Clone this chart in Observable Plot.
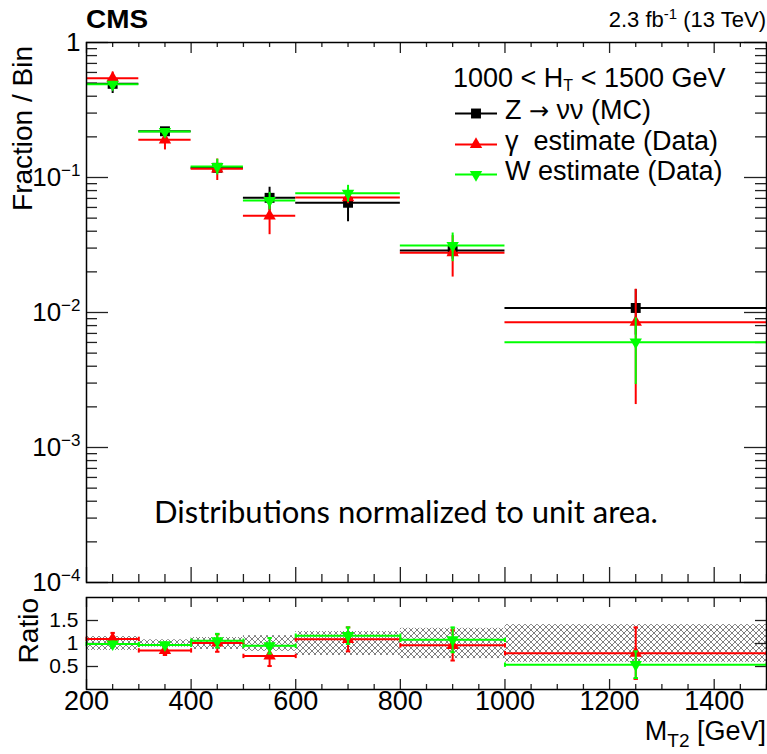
<!DOCTYPE html>
<html><head><meta charset="utf-8">
<script src="https://cdn.jsdelivr.net/npm/d3@7"></script>
<script src="https://cdn.jsdelivr.net/npm/@observablehq/plot@0.6"></script>
<style>
body{margin:0;background:#fff;}
#wrap{position:relative;width:767px;height:754px;overflow:hidden;background:#fff;}
#top{position:absolute;left:0;top:0;}
#bot{position:absolute;left:0;top:591px;}
</style></head><body>
<svg width="0" height="0" style="position:absolute"><defs>
<pattern id="hatch" width="6" height="6" patternUnits="userSpaceOnUse">
<rect width="6" height="6" fill="#fff"/>
<path d="M0,0L6,6M6,0L0,6" stroke="#808080" stroke-width="1"/>
</pattern></defs></svg>
<div id="wrap"><div id="top"></div><div id="bot"></div></div>
<script>
// ---- data ----
const binLo=[200,300,400,500,600,800,1000];
const binHi=[300,400,500,600,800,1000,1500];
const binCenter=[250,350,450,550,700,900,1250];
const zFrac=[0.494,0.220,0.118,0.0707,0.065,0.0288,0.0108];
const zErr=[0.075,0.010,0.006,0.014,0.018,0.004,0.004];
const gFrac=[0.544,0.190,0.116,0.052,0.071,0.0277,0.00848];
const gErr=[0.060,0.030,0.021,0.0143,0.007,0.0094,0.0064];
const wFrac=[0.490,0.219,0.1206,0.0676,0.0765,0.0313,0.00603];
const wErr=[0.025,0.010,0.016,0.010,0.011,0.0075,0.0031];
const gRatio=[1.10,0.85,1.01,0.73,1.09,0.96,0.79];
const gRatioErr=[0.13,0.10,0.19,0.22,0.26,0.33,0.56];
const wRatio=[0.99,0.97,1.06,0.95,1.17,1.08,0.54];
const wRatioErr=[0.05,0.05,0.15,0.17,0.18,0.27,0.29];
const mcBand=[0.15,0.08,0.13,0.17,0.26,0.33,0.41];
const xTickValues=[200,400,600,800,1000,1200,1400];
const xTickLabels=["200","400","600","800","1000","1200","1400"];
const yTickValues=[1e-4,1e-3,1e-2,1e-1,1];
const yTickLabels=["10^\u22124","10^\u22123","10^\u22122","10^\u22121","1"];
const ratioTickValues=[0.5,1,1.5];
const ratioTickLabels=["0.5","1","1.5"];
const legendLabels=["Z \u2192 \u03bd\u03bd (MC)","\u03b3  estimate (Data)","W estimate (Data)"];

// ---- layout ----
const W=767, mL=86, mR=1;
const innerW=W-mL-mR;
const topH=591, tT=42, tB=9, innerTop=topH-tT-tB;
const botH=163, bT=6, bB=65, innerBot=botH-bT-bB;
const FONT="'Liberation Sans', Arial, Helvetica, sans-serif";
const idx=d3.range(binLo.length);
const xMinor=d3.range(200,1501,50).filter(v=>v%200!==0);
const yMinor=[];
for(const dec of [1e-4,1e-3,1e-2,1e-1]) for(let k=2;k<=9;k++) yMinor.push(k*dec);
const sqrt3=Math.sqrt(3);
const triangleDown={draw(ctx,size){const y=-Math.sqrt(size/(sqrt3*3));ctx.moveTo(0,-y*2);ctx.lineTo(-sqrt3*y,y);ctx.lineTo(sqrt3*y,y);ctx.closePath();}};
const hcap={draw(ctx,size){const r=Math.sqrt(size/Math.PI);ctx.moveTo(-r,0);ctx.lineTo(r,0);}};
const vcap={draw(ctx,size){const r=Math.sqrt(size/Math.PI);ctx.moveTo(0,-r);ctx.lineTo(0,r);}};
const RED="#ff0000", GREEN="#00ff00", BLACK="#000000";

const series=[
  {v:zFrac,e:zErr,color:BLACK,symbol:"square",r:5.6},
  {v:gFrac,e:gErr,color:RED,symbol:"triangle",r:4.6},
  {v:wFrac,e:wErr,color:GREEN,symbol:triangleDown,r:4.6}
];
const tickStyle={stroke:"#222",strokeWidth:1.3};

function frameTicksX(inner, topMaj, topMin, botMaj, botMin){
  return [
    Plot.tickX(xTickValues,{x:d=>d,insetTop:inner-botMaj,...tickStyle}),
    Plot.tickX(xMinor,{x:d=>d,insetTop:inner-botMin,...tickStyle}),
    Plot.tickX(xTickValues,{x:d=>d,insetBottom:inner-topMaj,...tickStyle}),
    Plot.tickX(xMinor,{x:d=>d,insetBottom:inner-topMin,...tickStyle})
  ];
}

const topMarks=[
  ...frameTicksX(innerTop,11,5,15,8),
  Plot.tickY(yTickValues,{y:d=>d,insetRight:innerW-22,...tickStyle}),
  Plot.tickY(yMinor,{y:d=>d,insetRight:innerW-11,...tickStyle}),
  Plot.tickY(yTickValues,{y:d=>d,insetLeft:innerW-22,...tickStyle}),
  Plot.tickY(yMinor,{y:d=>d,insetLeft:innerW-11,...tickStyle}),
  Plot.axisY({ticks:yTickValues,tickSize:0,tickPadding:6,anchor:"left",label:null,
    tickFormat:d=>yTickLabels[yTickValues.indexOf(d)],fontSize:26})
];
for(const s of series){
  topMarks.push(
    Plot.ruleY(idx,{y:i=>s.v[i],x1:i=>binLo[i],x2:i=>binHi[i],stroke:s.color,strokeWidth:2}),
    Plot.ruleX(idx,{x:i=>binCenter[i],y1:i=>s.v[i]-s.e[i],y2:i=>s.v[i]+s.e[i],stroke:s.color,strokeWidth:2}),
    Plot.dot(idx,{x:i=>binCenter[i],y:i=>s.v[i],symbol:s.symbol,r:s.r,fill:s.color,stroke:"none"})
  );
}
topMarks.push(Plot.frame({stroke:"#000",strokeWidth:1.5}));

const topSvg=Plot.plot({
  width:W,height:topH,marginLeft:mL,marginRight:mR,marginTop:tT,marginBottom:tB,
  x:{domain:[200,1500],axis:null},
  y:{type:"log",domain:[1e-4,1],axis:null},
  style:{fontFamily:FONT,fontSize:"26px",color:"#000",background:"#fff"},
  marks:topMarks
});
document.getElementById("top").appendChild(topSvg);

// ratio panel
const ratioSeries=[
  {v:gRatio,e:gRatioErr,color:RED,symbol:"triangle",r:4.6},
  {v:wRatio,e:wRatioErr,color:GREEN,symbol:triangleDown,r:4.6}
];
const botMarks=[
  Plot.rect(idx,{x1:i=>binLo[i],x2:i=>binHi[i],y1:i=>1-mcBand[i],y2:i=>1+mcBand[i],fill:"url(#hatch)"}),
  ...frameTicksX(innerBot,10,5,10,5),
  Plot.tickY(ratioTickValues,{y:d=>d,insetRight:innerW-12,...tickStyle}),
  Plot.tickY(ratioTickValues,{y:d=>d,insetLeft:innerW-11,...tickStyle}),
  Plot.axisY({ticks:ratioTickValues,tickSize:0,tickPadding:8,anchor:"left",label:null,
    tickFormat:d=>ratioTickLabels[ratioTickValues.indexOf(d)],fontSize:21}),
  Plot.axisX({ticks:xTickValues,tickSize:0,tickPadding:1,anchor:"bottom",label:null,
    tickFormat:d=>xTickLabels[xTickValues.indexOf(d)],fontSize:27})
];
for(const s of ratioSeries){
  botMarks.push(
    Plot.ruleY(idx,{y:i=>s.v[i],x1:i=>binLo[i],x2:i=>binHi[i],stroke:s.color,strokeWidth:2}),
    Plot.dot(idx,{x:i=>binLo[i],y:i=>s.v[i],symbol:vcap,r:2.2,stroke:s.color,strokeWidth:2,fill:"none"}),
    Plot.dot(idx,{x:i=>binHi[i],y:i=>s.v[i],symbol:vcap,r:2.2,stroke:s.color,strokeWidth:2,fill:"none"}),
    Plot.ruleX(idx,{x:i=>binCenter[i],y1:i=>s.v[i]-s.e[i],y2:i=>s.v[i]+s.e[i],stroke:s.color,strokeWidth:2}),
    Plot.dot(idx,{x:i=>binCenter[i],y:i=>s.v[i]-s.e[i],symbol:hcap,r:2.2,stroke:s.color,strokeWidth:2,fill:"none"}),
    Plot.dot(idx,{x:i=>binCenter[i],y:i=>s.v[i]+s.e[i],symbol:hcap,r:2.2,stroke:s.color,strokeWidth:2,fill:"none"}),
    Plot.dot(idx,{x:i=>binCenter[i],y:i=>s.v[i],symbol:s.symbol,r:s.r,fill:s.color,stroke:"none"})
  );
}
botMarks.push(Plot.frame({stroke:"#000",strokeWidth:1.5}));

const botSvg=Plot.plot({
  width:W,height:botH,marginLeft:mL,marginRight:mR,marginTop:bT,marginBottom:bB,
  x:{domain:[200,1500],axis:null},
  y:{domain:[0,2],axis:null},
  style:{fontFamily:FONT,fontSize:"26px",color:"#000",background:"#fff"},
  marks:botMarks
});
document.getElementById("bot").appendChild(botSvg);

// superscript exponents in y tick labels
d3.select(topSvg).selectAll("text").each(function(){
  const t=this.textContent;
  if(t.includes("^")){
    const [m,e]=t.split("^");
    const el=d3.select(this); el.text("");
    el.append("tspan").text(m);
    el.append("tspan").attr("dy","-0.55em").attr("font-size","17px").text(e);
  }
});

// ---- text overlays ----
const tg=d3.select(topSvg).append("g").attr("font-family",FONT).attr("fill","#000").attr("text-anchor","start");
tg.append("text").attr("x",86).attr("y",28).attr("font-weight","bold").attr("font-size",25)
  .attr("textLength",62).attr("lengthAdjust","spacingAndGlyphs").text("CMS");
const lumi=tg.append("text").attr("x",766).attr("y",26.5).attr("text-anchor","end").attr("font-size",22);
lumi.append("tspan").text("2.3 fb");
lumi.append("tspan").attr("dy",-8).attr("font-size",15).text("-1");
lumi.append("tspan").attr("dy",8).text(" (13 TeV)");
tg.append("text").attr("transform","translate(32,46) rotate(-90)").attr("text-anchor","end")
  .attr("font-size",28).text("Fraction / Bin");

const leg=tg.append("g").attr("font-size",27);
const head=leg.append("text").attr("x",453).attr("y",87);
head.append("tspan").text("1000 < H");
head.append("tspan").attr("dy",4).attr("font-size",16).text("T");
head.append("tspan").attr("dy",-4).text(" < 1500 GeV");
const legMarkY=[113.5,144.5,174.5], legTextY=[119,150,180];
series.forEach((s,i)=>{
  leg.append("line").attr("x1",455).attr("x2",497).attr("y1",legMarkY[i]).attr("y2",legMarkY[i])
    .attr("stroke",s.color).attr("stroke-width",2);
  const type=s.symbol==="square"?d3.symbolSquare:s.symbol==="triangle"?d3.symbolTriangle:s.symbol;
  leg.append("path").attr("transform",`translate(476,${legMarkY[i]})`)
    .attr("d",d3.symbol(type,Math.PI*s.r*s.r)()).attr("fill",s.color);
  const t=leg.append("text").attr("x",505).attr("y",legTextY[i]);
  const parts=legendLabels[i].split("\u2192");
  parts.forEach((p,j)=>{
    if(j>0) t.append("tspan").attr("font-family","'DejaVu Sans', sans-serif").attr("font-size",24).text("\u2192");
    t.append("tspan").text(p);
  });
});
tg.append("text").attr("x",406).attr("y",523).attr("text-anchor","middle")
  .attr("font-family","Lato, 'Open Sans', sans-serif").attr("font-size",31)
  .text("Distributions normalized to unit area.");

const bg=d3.select(botSvg).append("g").attr("font-family",FONT).attr("fill","#000");
bg.append("text").attr("transform","translate(38,7) rotate(-90)").attr("text-anchor","end")
  .attr("font-size",28).text("Ratio");
const xt=bg.append("text").attr("x",766).attr("y",149).attr("text-anchor","end").attr("font-size",27);
xt.append("tspan").text("M");
xt.append("tspan").attr("dy",7).attr("font-size",19).text("T2");
xt.append("tspan").attr("dy",-7).text(" [GeV]");
</script>
</body></html>
